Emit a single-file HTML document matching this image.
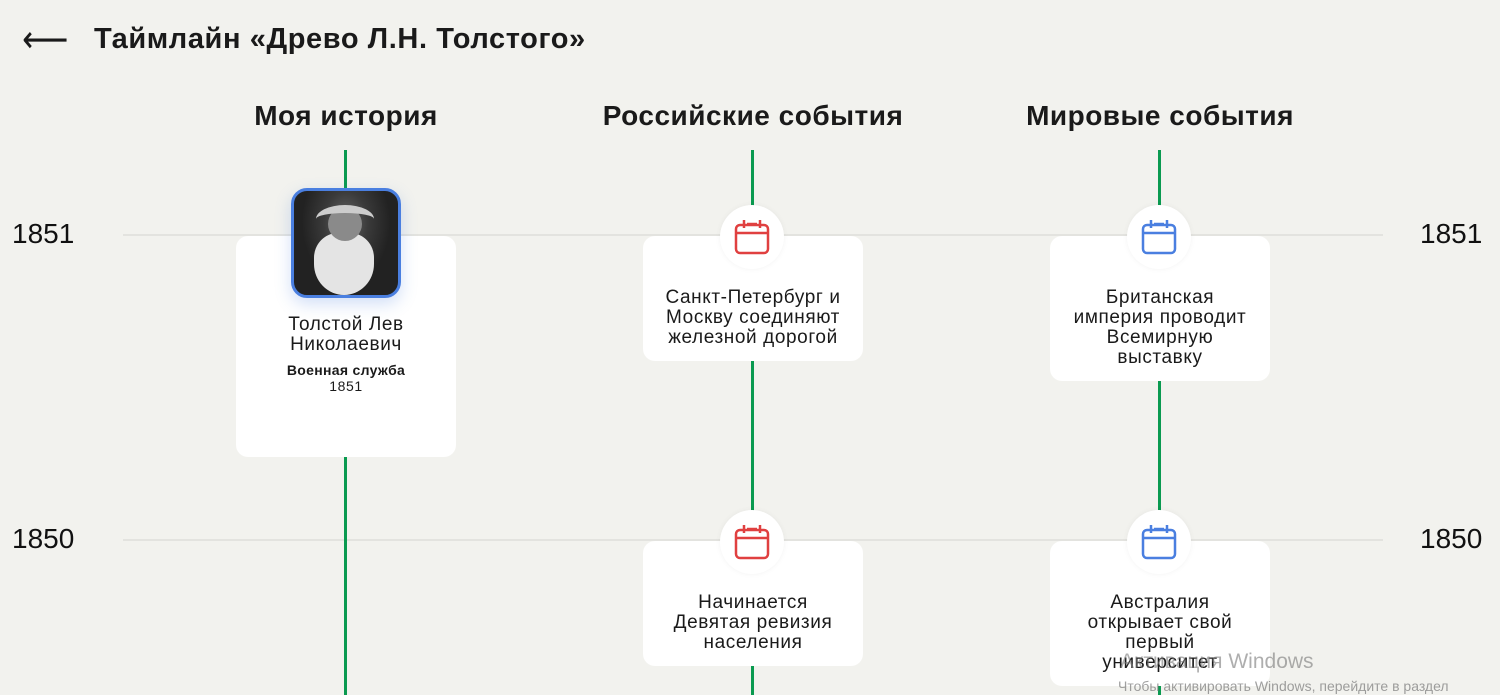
<!DOCTYPE html>
<html><head><meta charset="utf-8"><style>
body{margin:0;width:1500px;height:695px;background:#f2f2ee;font-family:"Liberation Sans","DejaVu Sans",sans-serif;position:relative;overflow:hidden;color:#1a1a1a}
.a{position:absolute}
.vl{position:absolute;width:3px;background:#0a9a50;top:150px;height:545px}
.hl{position:absolute;left:123px;width:1260px;height:2px;background:#e3e3df}
.yr{position:absolute;font-size:28px;color:#111}
.h{position:absolute;font-size:28px;font-weight:bold;text-align:center;width:440px;top:100px;letter-spacing:0.5px}
.card{position:absolute;width:220px;background:#fff;border-radius:12px;text-align:center;font-size:19px;line-height:20px;letter-spacing:0.6px;box-sizing:border-box;padding:0 4px;white-space:nowrap}
.ic{position:absolute;width:64px;height:64px;border-radius:50%;background:#fff;box-shadow:0 0 6px rgba(0,0,0,0.05)}
.ic svg{position:absolute;left:14px;top:12px}
</style></head><body>
<div class="a" style="left:22px;top:23px;font-size:38px;line-height:34px;transform:scaleX(0.85);transform-origin:left">⟵</div>
<div class="a" style="left:94px;top:23px;font-size:29px;font-weight:bold;letter-spacing:0.6px">Таймлайн «Древо Л.Н. Толстого»</div>
<div class="h" style="left:126px">Моя история</div>
<div class="h" style="left:533px">Российские события</div>
<div class="h" style="left:940px">Мировые события</div>
<div class="hl" style="top:234px"></div>
<div class="hl" style="top:539px"></div>
<div class="vl" style="left:344px"></div>
<div class="vl" style="left:751px"></div>
<div class="vl" style="left:1158px"></div>
<div class="yr" style="left:12px;top:218px">1851</div>
<div class="yr" style="left:1420px;top:218px">1851</div>
<div class="yr" style="left:12px;top:523px">1850</div>
<div class="yr" style="left:1420px;top:523px">1850</div>

<div class="card" style="left:236px;top:236px;height:221px;padding-top:79px">Толстой Лев<br>Николаевич<div style="font-size:14px;font-weight:bold;line-height:16px;margin-top:7px;letter-spacing:0.3px">Военная служба</div><div style="font-size:14px;line-height:16px">1851</div></div>
<div class="a" style="left:291px;top:188px;width:104px;height:104px;border:3px solid #4a7fe0;border-radius:16px;background:radial-gradient(ellipse at 50% 30%,#666 0,#3a3a3a 30%,#222 60%);box-shadow:0 6px 16px rgba(74,127,224,0.25);overflow:hidden"><div style="position:absolute;left:20px;top:42px;width:60px;height:62px;background:#e4e4e4;border-radius:40% 40% 50% 50%"></div><div style="position:absolute;left:34px;top:16px;width:34px;height:34px;background:#8a8a8a;border-radius:50%"></div><div style="position:absolute;left:22px;top:14px;width:58px;height:20px;border-top:8px solid #ccc;border-radius:50%"></div></div>

<div class="card" style="left:643px;top:236px;height:125px;padding-top:52px">Санкт-Петербург и<br>Москву соединяют<br>железной дорогой</div>
<div class="card" style="left:1050px;top:236px;height:145px;padding-top:52px">Британская<br>империя проводит<br>Всемирную<br>выставку</div>
<div class="card" style="left:643px;top:541px;height:125px;padding-top:52px">Начинается<br>Девятая ревизия<br>населения</div>
<div class="card" style="left:1050px;top:541px;height:145px;padding-top:52px">Австралия<br>открывает свой<br>первый<br>университет</div>

<div class="ic" style="left:720px;top:205px"><svg width="36" height="38" viewBox="0 0 36 38" fill="none" stroke="#e04040" stroke-width="2.5"><rect x="2" y="8" width="32" height="28" rx="4"/><line x1="2" y1="16" x2="34" y2="16"/><line x1="10" y1="3" x2="10" y2="11"/><line x1="26" y1="3" x2="26" y2="11"/><line x1="13" y1="7" x2="23" y2="7"/></svg></div>
<div class="ic" style="left:1127px;top:205px"><svg width="36" height="38" viewBox="0 0 36 38" fill="none" stroke="#4a7fe0" stroke-width="2.5"><rect x="2" y="8" width="32" height="28" rx="4"/><line x1="2" y1="16" x2="34" y2="16"/><line x1="10" y1="3" x2="10" y2="11"/><line x1="26" y1="3" x2="26" y2="11"/><line x1="13" y1="7" x2="23" y2="7"/></svg></div>
<div class="ic" style="left:720px;top:510px"><svg width="36" height="38" viewBox="0 0 36 38" fill="none" stroke="#e04040" stroke-width="2.5"><rect x="2" y="8" width="32" height="28" rx="4"/><line x1="2" y1="16" x2="34" y2="16"/><line x1="10" y1="3" x2="10" y2="11"/><line x1="26" y1="3" x2="26" y2="11"/><line x1="13" y1="7" x2="23" y2="7"/></svg></div>
<div class="ic" style="left:1127px;top:510px"><svg width="36" height="38" viewBox="0 0 36 38" fill="none" stroke="#4a7fe0" stroke-width="2.5"><rect x="2" y="8" width="32" height="28" rx="4"/><line x1="2" y1="16" x2="34" y2="16"/><line x1="10" y1="3" x2="10" y2="11"/><line x1="26" y1="3" x2="26" y2="11"/><line x1="13" y1="7" x2="23" y2="7"/></svg></div>

<div class="a" style="left:1120px;top:650px;font-size:21px;color:rgba(120,120,120,0.6)">Активация Windows</div>
<div class="a" style="left:1118px;top:678px;font-size:14px;color:rgba(120,120,120,0.7)">Чтобы активировать Windows, перейдите в раздел</div>
</body></html>
